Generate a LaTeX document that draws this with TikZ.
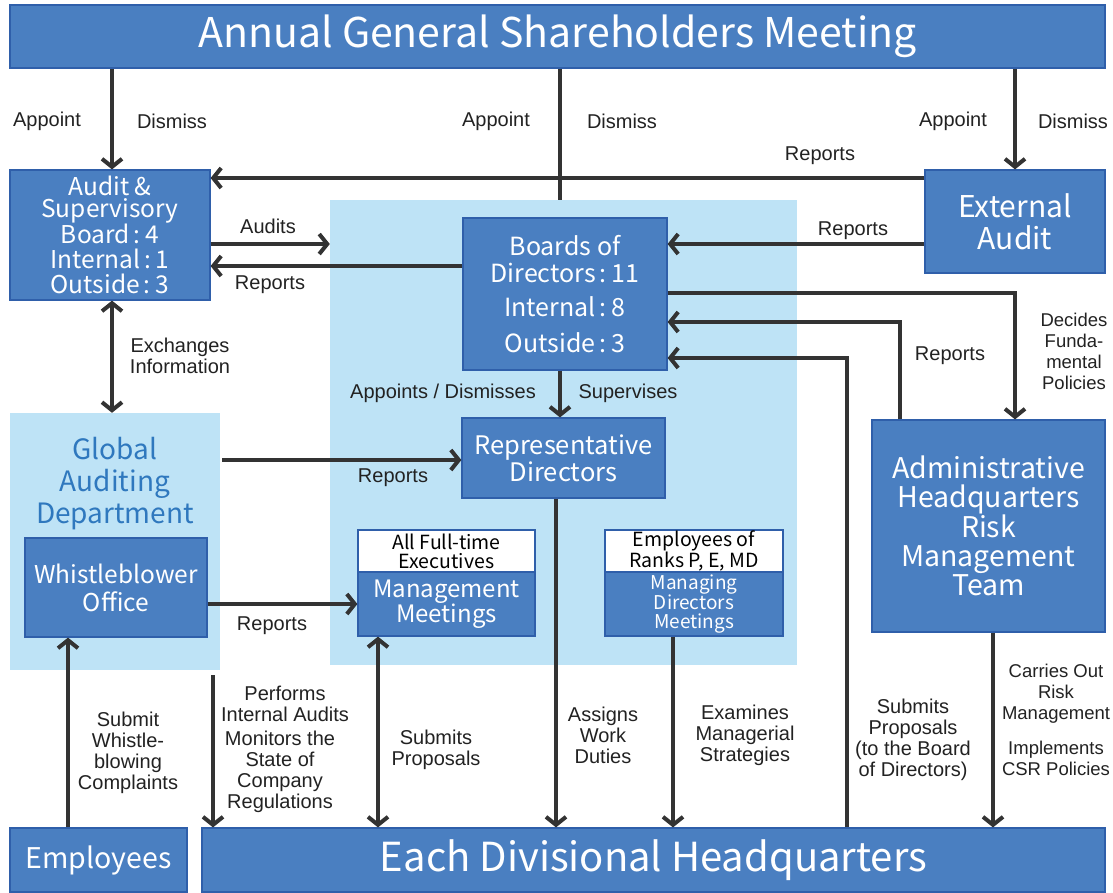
\documentclass[tikz,border=0pt]{standalone}
\usepackage{fontspec}
\setmainfont{Liberation Sans}
\newfontfamily\jp{Noto Sans CJK JP}
\usetikzlibrary{arrows.meta}
\definecolor{boxblue}{HTML}{4A7FC1}
\definecolor{boxedge}{HTML}{2F5FAA}
\definecolor{panelblue}{HTML}{BEE3F6}
\definecolor{arrgray}{HTML}{333333}
\definecolor{lblgray}{HTML}{222222}
\definecolor{deptblue}{HTML}{2F78BE}
\newcommand\bsz[2]{\fontsize{#1}{#2}\selectfont}
\newcommand\cln{\kern4pt:\kern5pt}
\begin{document}
\begin{tikzpicture}[x=1pt,y=-1pt,
  bluebox/.style={draw=boxedge, fill=boxblue, line width=1.2, text=white, align=center, inner sep=0pt, font=\jp},
  whitebox/.style={draw=boxedge, fill=white, line width=1.2, text=black, align=center, inner sep=0pt, font=\jp\bsz{19.5}{19}},
  panel/.style={fill=panelblue, draw=none, inner sep=0pt},
  arr/.style={draw=arrgray, line width=4, -{Straight Barb[length=8pt,width=20pt]}},
  darr/.style={draw=arrgray, line width=4, {Straight Barb[length=8pt,width=20pt]}-{Straight Barb[length=8pt,width=20pt]}},
  plain/.style={draw=arrgray, line width=4},
  lbl/.style={font=\bsz{20}{21}, text=lblgray, align=center, inner sep=0pt},
  lbls/.style={font=\bsz{18.5}{21}, text=lblgray, align=center, inner sep=0pt}]
\clip (0,0) rectangle (1113,892);
\fill[white] (0,0) rectangle (1113,892);
% coordinates
\coordinate (x68) at (68,0);
\coordinate (x112) at (112,0);
\coordinate (x213) at (213,0);
\coordinate (x378) at (378,0);
\coordinate (x556) at (556,0);
\coordinate (x560) at (560,0);
\coordinate (x673) at (673,0);
\coordinate (x847) at (847,0);
\coordinate (x900) at (900,0);
\coordinate (x993) at (993,0);
\coordinate (x1015) at (1015,0);
\coordinate (y178) at (0,178);
\coordinate (y244) at (0,244);
\coordinate (y266) at (0,266);
\coordinate (y293) at (0,293);
\coordinate (y322) at (0,322);
\coordinate (y358) at (0,358);
\coordinate (y460) at (0,460);
\coordinate (y604) at (0,604);
\coordinate (start213) at (213,675);
% panels
\node[panel, minimum width=467, minimum height=465] (panel) at (563.5,432.5) {};
\node[panel, minimum width=210, minimum height=257] (gpanel) at (115,541.5) {};
\node[font=\jp\bsz{28}{32}, text=deptblue, align=center, inner sep=0pt] (gtext) at (115,484) {Global\\Auditing\\Department};
% boxes
\node[bluebox, minimum width=1095, minimum height=63, font=\jp\bsz{41}{44}] (agsm) at (557.5,36.5) {Annual General Shareholders Meeting};
\node[bluebox, minimum width=200, minimum height=130, font=\jp\bsz{24.5}{22.5}] (audit) at (110,235) {Audit \&\\Supervisory\\Board\cln 4\\[2pt]Internal\cln 1\\[3pt]Outside\cln 3};
\node[bluebox, minimum width=180, minimum height=103, font=\jp\bsz{30}{32}] (ext) at (1015,221.5) {External\\Audit};
\node[bluebox, minimum width=204, minimum height=152, font=\jp\bsz{25}{27}] (boards) at (565,294) {Boards of\\Directors\cln 11\\[7pt]Internal\cln 8\\[9pt]Outside\cln 3};
\node[bluebox, minimum width=203, minimum height=80, font=\jp\bsz{25.5}{27}] (rep) at (563.5,458) {Representative\\Directors};
\node[bluebox, minimum width=233, minimum height=212, font=\jp\bsz{28.5}{29}] (admin) at (988.5,526) {Administrative\\Headquarters\\Risk\\Management\\Team};
\node[bluebox, minimum width=182, minimum height=99, font=\jp\bsz{24.5}{28}] (whistle) at (116,587.5) {Whistleblower\\Office};
\node[whitebox, minimum width=177, minimum height=42] (mmhead) at (446.5,551) {All Full-time\\Executives};
\node[bluebox, minimum width=177, minimum height=64, font=\jp\bsz{24}{23}] (mmbody) at (446.5,604) {Management\\Meetings};
\node[whitebox, minimum width=178, minimum height=42] (mdhead) at (694,551) {Employees of\\Ranks P, E, MD};
\node[bluebox, minimum width=178, minimum height=64, font=\jp\bsz{19}{18.5}] (mdbody) at (694,604) {Managing\\Directors\\Meetings};
\node[bluebox, minimum width=177, minimum height=64, font=\jp\bsz{28.5}{30}] (emp) at (98.5,860) {Employees};
\node[bluebox, minimum width=903, minimum height=64, font=\jp\bsz{40}{44}] (div) at (653.5,860) {Each Divisional Headquarters};
% connectors
\draw[arr] (agsm.south -| x112) -- (audit.north -| x112);
\draw[plain] (agsm.south -| x560) -- (panel.north -| x560);
\draw[arr] (agsm.south -| x1015) -- (ext.north -| x1015);
\draw[arr] (ext.west |- y178) -- (audit.east |- y178);
\draw[arr] (audit.east |- y244) -- (panel.west |- y244);
\draw[arr] (boards.west |- y266) -- (audit.east |- y266);
\draw[arr] (ext.west |- y244) -- (boards.east |- y244);
\draw[arr] (boards.east |- y293) -- (x1015 |- y293) -- (x1015 |- admin.north);
\draw[arr] (x900 |- admin.north) -- (x900 |- y322) -- (boards.east |- y322);
\draw[arr] (x847 |- div.north) -- (x847 |- y358) -- (boards.east |- y358);
\draw[arr] (x560 |- boards.south) -- (x560 |- rep.north);
\draw[darr] (x112 |- audit.south) -- (x112 |- gpanel.north);
\draw[arr] ([xshift=2pt]gpanel.east |- y460) -- (rep.west |- y460);
\draw[arr] (whistle.east |- y604) -- (mmbody.west |- y604);
\draw[arr] (x556 |- rep.south) -- (x556 |- div.north);
\draw[arr] (x673 |- mdbody.south) -- (x673 |- div.north);
\draw[arr] (x68 |- emp.north) -- (x68 |- whistle.south);
\draw[arr] (start213) -- (x213 |- div.north);
\draw[darr] (x378 |- div.north) -- (x378 |- mmbody.south);
\draw[arr] (x993 |- admin.south) -- (x993 |- div.north);
% labels
\node[lbl] (l1) at (47,121) {Appoint};
\node[lbl] (l2) at (172,121) {Dismiss};
\node[lbl] (l3) at (496,121) {Appoint};
\node[lbl] (l4) at (622,121) {Dismiss};
\node[lbl] (l5) at (953,121) {Appoint};
\node[lbl] (l6) at (1073,121) {Dismiss};
\node[lbl] (l7) at (820,156) {Reports};
\node[lbl] (l8) at (268,226) {Audits};
\node[lbl] (l9) at (270,285) {Reports};
\node[lbl] (l10) at (853,231) {Reports};
\node[lbl] (l11) at (180,356) {Exchanges\\Information};
\node[lbl] (l12) at (443,393) {Appoints / Dismisses};
\node[lbl] (l13) at (628,393) {Supervises};
\node[lbl] (l14) at (950,356) {Reports};
\node[lbls] (l15) at (1074,351) {Decides\\Funda-\\mental\\Policies};
\node[lbl] (l16) at (393,478) {Reports};
\node[lbl] (l17) at (272,626) {Reports};
\node[lbl] (l18) at (128,753) {Submit\\Whistle-\\blowing\\Complaints};
\node[lbl] (l19) at (285,704) {Performs\\Internal Audits};
\node[lbl] (l20) at (280,772) {Monitors the\\State of\\Company\\Regulations};
\node[lbl] (l21) at (436,750) {Submits\\Proposals};
\node[lbl] (l22) at (603,735) {Assigns\\Work\\Duties};
\node[lbl] (l23) at (745,735) {Examines\\Managerial\\Strategies};
\node[lbl] (l24) at (913,740) {Submits\\Proposals\\(to the Board\\of Directors)};
\node[lbls] (l25) at (1056,694) {Carries Out\\Risk\\Management};
\node[lbls] (l26) at (1056,758) {Implements\\CSR Policies};
\end{tikzpicture}
\end{document}
